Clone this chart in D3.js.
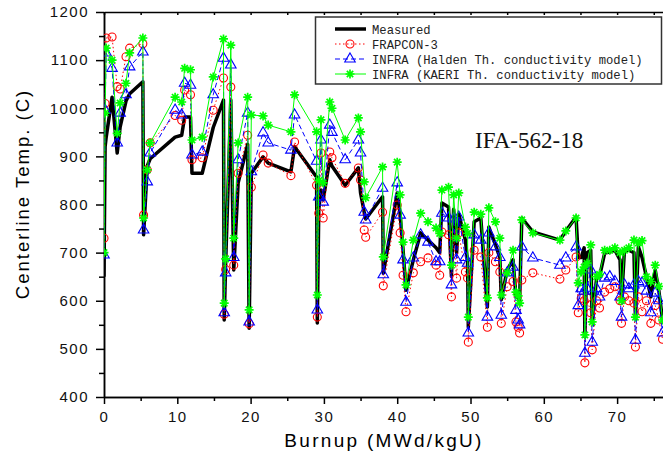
<!DOCTYPE html>
<html>
<head>
<meta charset="utf-8">
<script src="https://cdn.jsdelivr.net/npm/d3@7"></script>
<style>
  body { margin: 0; background: #fff; }
  svg { display: block; }
</style>
</head>
<body>
<div id="chart"></div>
<script>
// burnup (MWd/kgU)
const burnup = [
  0.0, 0.15, 0.3, 1.1, 1.8, 2.2, 3.0, 3.5, 5.3, 5.4,
  5.9, 6.3, 9.7, 10.6, 11.0, 11.8, 12.0, 13.4, 14.9, 16.3,
  16.4, 16.6, 17.3, 17.7, 18.3, 19.6, 19.8, 20.1, 21.7, 22.4,
  25.5, 26.0, 29.0, 29.1, 29.3, 29.6, 29.9, 30.8, 31.1, 32.9,
  34.7, 35.0, 35.5, 35.7, 38.0, 38.1, 40.0, 40.4, 40.8, 41.2,
  42.2, 43.2, 44.2, 45.3, 45.8, 46.1, 47.0, 47.4, 47.7, 48.1,
  48.4, 49.3, 49.6, 49.7, 50.5, 51.4, 52.3, 52.5, 53.4, 54.0,
  54.2, 55.0, 55.8, 56.2, 56.5, 56.7, 57.0, 58.5, 62.2, 63.0,
  64.4, 64.7, 65.1, 65.5, 65.6, 65.9, 66.4, 66.6, 67.2, 67.6,
  68.3, 69.0, 69.7, 70.4, 70.6, 71.0, 71.6, 72.3, 72.5, 72.9,
  73.4, 74.0, 74.6, 75.2, 75.7, 76.2
];
const measured = [
  650, 920, 940, 1023, 907, 961, 1015, 1030, 1055, 737,
  880, 895, 940, 944, 982, 982, 865, 865, 960, 1017,
  560, 680, 1017, 664, 845, 925, 543, 865, 899, 886,
  868, 920, 857, 554, 790, 830, 810, 893, 880, 840,
  876, 824, 784, 770, 816, 657, 824, 780, 705, 622,
  685, 741, 726, 710, 700, 803, 795, 650, 790, 700,
  780, 726, 680, 545, 764, 772, 587, 753, 716, 690,
  602, 664, 685, 610, 605, 602, 772, 743, 726, 745,
  774, 690, 690, 710, 525, 700, 705, 556, 647, 650,
  699, 701, 705, 685, 600, 705, 705, 700, 566, 712,
  690, 650, 608, 664, 620, 560
];
const frapcon = [
  730, 1010, 1146, 1148, 1045, 1040, 1107, 1125, 1134, 778,
  872, 928, 985, 975, 1038, 1028, 893, 897, 996, 1063,
  572, 665, 1044, 674, 865, 944, 552, 836, 903, 886,
  860, 930, 840, 566, 782, 907, 772, 909, 897, 844,
  876, 851, 747, 732, 784, 631, 799, 741, 653, 577,
  658, 681, 689, 674, 653, 743, 737, 608, 735, 647,
  741, 660, 647, 514, 705, 691, 545, 700, 681, 660,
  553, 629, 640, 556, 545, 533, 643, 658, 645, 664,
  691, 575, 605, 600, 471, 606, 575, 498, 600, 585,
  618, 625, 629, 600, 553, 608, 600, 595, 504, 608,
  577, 600, 553, 590, 560, 520
];
const halden = [
  695, 996, 1115, 1083, 928, 990, 1028, 1086, 1117, 747,
  847, 907, 996, 986, 1052, 1048, 903, 909, 1028, 1104,
  575, 658, 1090, 690, 893, 990, 556, 868, 949, 928,
  913, 986, 890, 581, 816, 934, 805, 965, 950, 893,
  934, 907, 784, 768, 834, 654, 845, 778, 685, 597,
  689, 737, 722, 681, 681, 782, 772, 633, 770, 685,
  774, 690, 678, 533, 737, 726, 566, 741, 712, 690,
  570, 658, 670, 580, 560, 550, 712, 689, 674, 689,
  712, 590, 625, 620, 491, 626, 664, 514, 625, 608,
  647, 650, 640, 608, 566, 633, 625, 633, 518, 640,
  637, 620, 575, 616, 600, 533
];
const kaeri = [
  700, 990, 1125, 1100, 948, 1011, 1052, 1115, 1146, 772,
  872, 928, 1023, 1013, 1083, 1080, 934, 940, 1065, 1144,
  595, 687, 1131, 730, 928, 1023, 581, 986, 984, 965,
  951, 1028, 951, 612, 850, 976, 845, 1013, 1000, 934,
  980, 951, 847, 814, 878, 691, 888, 820, 722, 633,
  726, 782, 764, 751, 740, 830, 836, 674, 820, 730,
  824, 753, 740, 566, 784, 780, 606, 793, 764, 730,
  612, 658, 705, 618, 610, 595, 768, 741, 726, 745,
  772, 637, 660, 670, 529, 678, 716, 556, 650, 655,
  705, 705, 710, 700, 600, 705, 710, 726, 566, 720,
  725, 650, 640, 674, 630, 560
];
const xTicks = [0, 10, 20, 30, 40, 50, 60, 70];
const yTicks = [400, 500, 600, 700, 800, 900, 1000, 1100, 1200];
const legendNames = ['Measured', 'FRAPCON-3', 'INFRA (Halden Th. conductivity model)', 'INFRA (KAERI Th. conductivity model)'];

const width = 663, height = 461;
const margin = { top: 12, right: 0, bottom: 64, left: 104 };

const svg = d3.select('#chart').append('svg')
  .attr('width', width)
  .attr('height', height);

const x = d3.scaleLinear().domain([0, 76.26]).range([margin.left, width - margin.right]);
const y = d3.scaleLinear().domain([400, 1200]).range([height - margin.bottom, margin.top]);

svg.append('defs').append('clipPath').attr('id', 'clip')
  .append('rect')
  .attr('x', margin.left).attr('y', 0)
  .attr('width', width - margin.left).attr('height', height - margin.bottom);

// axes
const tickFont = 'Liberation Sans, Arial, sans-serif';

const yAxis = svg.append('g')
  .attr('transform', `translate(${margin.left},0)`)
  .call(d3.axisLeft(y).tickValues(yTicks).tickFormat(d3.format('d')).tickSize(8).tickPadding(7).tickSizeOuter(0));
svg.append('g')
  .attr('transform', `translate(${margin.left},0)`)
  .call(d3.axisLeft(y).tickValues(d3.range(450, 1200, 100)).tickSize(5).tickFormat('').tickSizeOuter(0));

const xAxis = svg.append('g')
  .attr('transform', `translate(0,${height - margin.bottom})`)
  .call(d3.axisBottom(x).tickValues(xTicks).tickFormat(d3.format('d')).tickSize(7).tickPadding(7).tickSizeOuter(0));
svg.append('g')
  .attr('transform', `translate(0,${height - margin.bottom})`)
  .call(d3.axisBottom(x).tickValues(d3.range(5, 80, 10)).tickSize(4).tickFormat('').tickSizeOuter(0));

// top frame
svg.append('g')
  .attr('transform', `translate(0,${margin.top})`)
  .call(d3.axisTop(x).tickValues(d3.range(0, 80, 5)).tickSize(-3).tickFormat('').tickSizeOuter(0));

svg.selectAll('.domain, .tick line').attr('stroke', '#000').attr('stroke-width', 1.5);
[yAxis, xAxis].forEach(a => a.selectAll('text')
  .style('font-family', tickFont)
  .style('font-size', '15px')
  .style('letter-spacing', '1.5px')
  .attr('fill', '#111'));

// axis titles
svg.append('text')
  .attr('x', 384)
  .attr('y', 447)
  .attr('text-anchor', 'middle')
  .style('font-family', tickFont)
  .style('font-size', '19px')
  .style('letter-spacing', '2.3px')
  .text('Burnup (MWd/kgU)');

svg.append('text')
  .attr('transform', 'translate(29,194) rotate(-90)')
  .attr('text-anchor', 'middle')
  .style('font-family', tickFont)
  .style('font-size', '18.5px')
  .style('letter-spacing', '2px')
  .text('Centerline Temp. (C)');

// series
const plot = svg.append('g').attr('clip-path', 'url(#clip)');

function lineFor(vals) {
  return d3.line()
    .x((d, i) => x(burnup[i]))
    .y(d => y(d))(vals);
}

const starPath = (() => {
  const r = 4.5, p = [];
  for (let k = 0; k < 4; k++) {
    const a = k * Math.PI / 4;
    p.push(`M${-r * Math.cos(a)},${-r * Math.sin(a)}L${r * Math.cos(a)},${r * Math.sin(a)}`);
  }
  return p.join('');
})();
const triPath = d3.symbol(d3.symbolTriangle, 48)();

const series = [
  { vals: measured, color: '#000', width: 3.5, dash: null, marker: null },
  { vals: frapcon, color: '#ff0000', width: 1, dash: '1.5,2.5', marker: 'circle' },
  { vals: halden, color: '#0000ff', width: 1, dash: '5,3', marker: 'tri' },
  { vals: kaeri, color: '#00ff00', width: 1, dash: null, marker: 'star' }
];

function drawMarker(g, type, color) {
  if (type === 'circle') {
    g.append('circle').attr('r', 4).attr('fill', 'none').attr('stroke', color).attr('stroke-width', 1.1);
  } else if (type === 'tri') {
    g.append('path').attr('d', triPath).attr('fill', 'none').attr('stroke', color).attr('stroke-width', 1.1);
  } else if (type === 'star') {
    g.append('path').attr('d', starPath).attr('fill', 'none').attr('stroke', color).attr('stroke-width', 1.7);
  }
}

series.forEach(s => {
  plot.append('path')
    .attr('d', lineFor(s.vals))
    .attr('fill', 'none')
    .attr('stroke', s.color)
    .attr('stroke-width', s.width)
    .attr('stroke-linejoin', 'round')
    .attr('stroke-dasharray', s.dash);
  if (s.marker) {
    s.vals.forEach((v, i) => {
      const g = plot.append('g').attr('transform', `translate(${x(burnup[i])},${y(v)})`);
      drawMarker(g, s.marker, s.color);
    });
  }
});

// legend
const legend = svg.append('g');
legend.append('rect')
  .attr('x', 315.5).attr('y', 17)
  .attr('width', 346).attr('height', 67)
  .attr('fill', '#fff')
  .attr('stroke', '#333')
  .attr('stroke-width', 1.5);

series.forEach((s, i) => {
  const cy = 29 + i * 15;
  legend.append('line')
    .attr('x1', 335).attr('x2', 366)
    .attr('y1', cy).attr('y2', cy)
    .attr('stroke', s.color)
    .attr('stroke-width', s.width)
    .attr('stroke-dasharray', s.dash);
  if (s.marker) {
    const g = legend.append('g').attr('transform', `translate(350,${cy})`);
    drawMarker(g, s.marker, s.color);
  }
  legend.append('text')
    .attr('x', 372).attr('y', cy + 4.5)
    .style('font-family', 'Liberation Mono, monospace')
    .style('font-size', '12.2px')
    .attr('fill', '#222')
    .text(legendNames[i]);
});

svg.append('text')
  .attr('x', 475).attr('y', 148)
  .style('font-family', 'Liberation Serif, serif')
  .style('font-size', '23px')
  .attr('fill', '#111')
  .text('IFA-562-18');
</script>
</body>
</html>
